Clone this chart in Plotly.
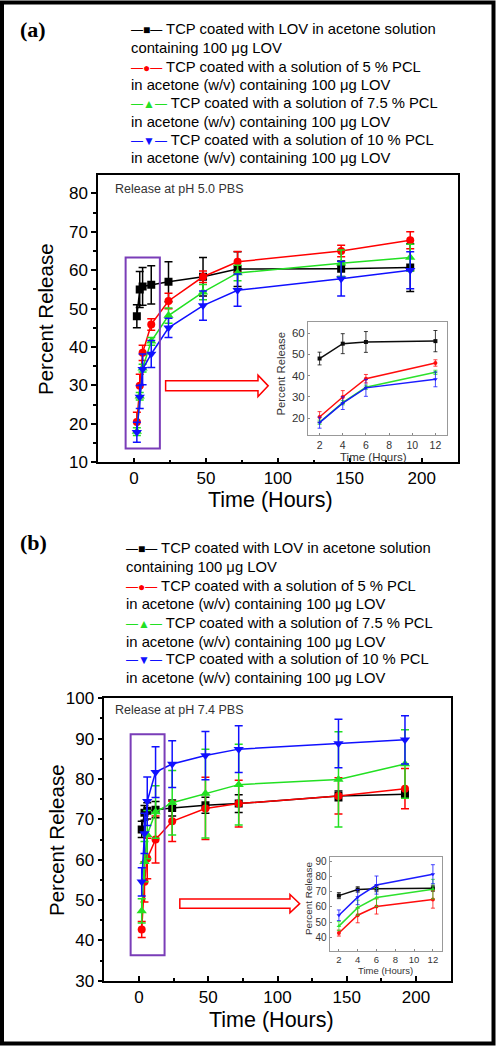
import plotly.graph_objects as go

W, H = 496, 1050

# ---------------- data ----------------
times = [2, 4, 6, 12, 24, 48, 72, 144, 192]
n_inset = 4  # first 4 time points shown in insets (2, 4, 6, 12 h)

series_names = [
    ["TCP coated with LOV in acetone solution", "containing 100 μg LOV"],
    ["TCP coated with a solution of 5 % PCL", "in acetone (w/v) containing 100 μg LOV"],
    ["TCP coated with a solution of 7.5 % PCL", "in acetone (w/v) containing 100 μg LOV"],
    ["TCP coated with a solution of 10 % PCL", "in acetone (w/v) containing 100 μg LOV"],
]
series_colors = ["#000000", "#ff0000", "#22e022", "#1010ff"]
series_symbols = ["square", "circle", "triangle-up", "triangle-down"]
legend_glyphs = ["■", "●", "▲", "▼"]

# pH 5.0
black_a = [48.0, 55.0, 55.8, 56.2, 57.0, 58.3, 60.3, 60.4, 60.7]
black_a_err = [3.0, 4.7, 4.9, 5.0, 5.2, 5.0, 4.5, 2.0, 6.2]
red_a = [20.5, 29.9, 38.5, 45.9, 52.0, 58.3, 62.2, 65.0, 67.8]
red_a_err = [2.5, 3.0, 2.0, 1.5, 2.0, 1.5, 2.7, 1.5, 2.2]
green_a = [18.0, 27.2, 34.5, 41.5, 48.2, 54.3, 59.3, 61.8, 63.3]
green_a_err = [1.0, 1.0, 1.0, 1.0, 2.0, 2.0, 2.0, 3.5, 3.5]
blue_a = [17.8, 27.0, 34.2, 38.2, 45.0, 50.8, 54.8, 57.8, 60.0]
blue_a_err = [2.6, 3.0, 4.0, 3.5, 2.5, 3.8, 4.2, 4.5, 4.8]

# pH 7.4
black_b = [67.5, 71.6, 72.1, 72.4, 72.8, 73.5, 73.9, 75.8, 76.2]
black_b_err = [2.0, 1.8, 2.0, 2.0, 2.0, 2.0, 2.2, 1.2, 1.0]
red_b = [42.7, 54.5, 60.3, 65.0, 69.5, 72.7, 73.9, 75.8, 77.6]
red_b_err = [2.0, 5.0, 5.0, 5.8, 5.0, 7.7, 5.8, 4.5, 5.0]
green_b = [47.3, 59.5, 66.2, 71.8, 74.1, 76.4, 78.6, 79.9, 83.7]
green_b_err = [3.0, 5.0, 6.0, 6.5, 8.0, 11.0, 10.0, 11.8, 8.5]
blue_b = [54.5, 66.5, 74.5, 81.7, 83.7, 85.8, 87.4, 88.8, 89.7]
blue_b_err = [3.5, 5.0, 6.0, 6.3, 5.8, 6.0, 5.8, 6.0, 6.0]

panel_a = [(black_a, black_a_err), (red_a, red_a_err), (green_a, green_a_err), (blue_a, blue_a_err)]
panel_b = [(black_b, black_b_err), (red_b, red_b_err), (green_b, green_b_err), (blue_b, blue_b_err)]

FONT = "Arial, 'Liberation Sans', sans-serif"


def px(x):
    return x / W


def py(y):
    return 1 - y / H


fig = go.Figure()


def add_panel(data, xa, ya, xi, yi):
    for (vals, errs), col, sym in zip(data, series_colors, series_symbols):
        msize = 8 if sym in ("square", "circle") else 9
        fig.add_trace(go.Scatter(
            x=times, y=vals, xaxis=xa, yaxis=ya, mode="lines+markers",
            line=dict(color=col, width=1.5),
            marker=dict(symbol=sym, size=msize, color=col),
            error_y=dict(type="data", array=errs, color=col, thickness=1.5, width=4),
            showlegend=False, hoverinfo="skip"))
    for (vals, errs), col, sym in zip(data, series_colors, series_symbols):
        fig.add_trace(go.Scatter(
            x=times[:n_inset], y=vals[:n_inset], xaxis=xi, yaxis=yi, mode="lines+markers",
            line=dict(color=col, width=1.5),
            marker=dict(symbol=sym, size=4, color=col),
            error_y=dict(type="data", array=errs[:n_inset], color=col, thickness=0.8, width=2),
            opacity=0.95, showlegend=False, hoverinfo="skip"))


add_panel(panel_a, "x", "y", "x2", "y2")
add_panel(panel_b, "x3", "y3", "x4", "y4")

main_tickfont = dict(family=FONT, size=17, color="black")


def main_x(domain, anchor):
    return dict(domain=domain, anchor=anchor, range=[-25, 225], tickvals=[0, 50, 100, 150, 200],
                ticks="inside", ticklen=5, tickwidth=1.5, tickcolor="black",
                minor=dict(tickvals=[-25, 25, 75, 125, 175, 225], ticks="inside", ticklen=3, tickwidth=1.5, tickcolor="black"),
                showline=True, linecolor="black", linewidth=1.5, mirror=True,
                showgrid=False, zeroline=False, tickfont=main_tickfont, automargin=False)


def main_y(domain, anchor, rng, vals, minor_vals):
    return dict(domain=domain, anchor=anchor, range=rng, tickvals=vals,
                ticks="outside", ticklen=5, tickwidth=1.5, tickcolor="black",
                minor=dict(tickvals=minor_vals, ticks="outside", ticklen=3, tickwidth=1.5, tickcolor="black"),
                showline=True, linecolor="black", linewidth=1.5, mirror=True,
                showgrid=False, zeroline=False, tickfont=main_tickfont, automargin=False)


def inset_x(domain, anchor, fs):
    return dict(domain=domain, anchor=anchor, range=[1, 13], tickvals=[2, 4, 6, 8, 10, 12],
                ticks="inside", ticklen=2, tickcolor="#888",
                showline=True, linecolor="#999", linewidth=1, mirror=True,
                showgrid=False, zeroline=False, tickfont=dict(family=FONT, size=fs, color="#333"),
                automargin=False)


def inset_y(domain, anchor, rng, vals, fs):
    return dict(domain=domain, anchor=anchor, range=rng, tickvals=vals,
                ticks="inside", ticklen=2, tickcolor="#888",
                showline=True, linecolor="#999", linewidth=1, mirror=True,
                showgrid=False, zeroline=False, tickfont=dict(family=FONT, size=fs, color="#333"),
                automargin=False)


fig.update_layout(
    width=W, height=H, margin=dict(l=0, r=0, t=0, b=0), autosize=False,
    paper_bgcolor="white", plot_bgcolor="white", template="none",
    xaxis=main_x([px(98), px(457.7)], "y"),
    yaxis=main_y([py(462.3), py(175)], "x", [10, 84.8], [10, 20, 30, 40, 50, 60, 70, 80], [15, 25, 35, 45, 55, 65, 75]),
    xaxis2=inset_x([px(308), px(447)], "y2", 10.5),
    yaxis2=inset_y([py(435), py(322)], "x2", [12, 65.2], [20, 30, 40, 50, 60], 11.5),
    xaxis3=main_x([px(104.3), px(450.7)], "y3"),
    yaxis3=main_y([py(980.7), py(698.3)], "x3", [30, 100], [30, 40, 50, 60, 70, 80, 90, 100], [35, 45, 55, 65, 75, 85, 95]),
    xaxis4=inset_x([px(329.5), px(442.3)], "y4", 9.5),
    yaxis4=inset_y([py(950.7), py(856.7)], "x4", [31, 93.3], [40, 50, 60, 70, 80, 90], 10),
)

ann = []
shapes = []

# outer frame
shapes.append(dict(type="rect", xref="paper", yref="paper", x0=px(2), x1=px(493.5), y0=py(1043.5), y1=py(2.5),
                   line=dict(color="black", width=4), layer="above"))

# panel letters
for letter, yy in (("(a)", 29), ("(b)", 542)):
    ann.append(dict(text=f"<b>{letter}</b>", x=px(18), y=py(yy), xref="paper", yref="paper",
                    xanchor="left", yanchor="middle", showarrow=False,
                    font=dict(family="'Liberation Serif', 'Times New Roman', serif", size=22, color="black")))


# legends (text blocks)
def add_legend(x0, ys):
    k = 0
    for (l1, l2), col, g in zip(series_names, series_colors, legend_glyphs):
        ann.append(dict(text=f'<span style="color:{col};font-size:12px">—{g}—</span> {l1}', x=px(x0), y=py(ys[k]),
                        xref="paper", yref="paper", xanchor="left", yanchor="middle", showarrow=False,
                        font=dict(family=FONT, size=14.8, color="black")))
        ann.append(dict(text=l2, x=px(x0), y=py(ys[k + 1]), xref="paper", yref="paper",
                        xanchor="left", yanchor="middle", showarrow=False,
                        font=dict(family=FONT, size=14.8, color="black")))
        k += 2


add_legend(129, [29.3, 48.3, 66.5, 85, 103.3, 121.7, 140, 158.3])
add_legend(124, [548.3, 567.3, 585.7, 604.3, 623.3, 641.7, 659.5, 678])

# condition labels
ann.append(dict(text="Release at pH 5.0 PBS", x=px(113), y=py(188.5), xref="paper", yref="paper",
                xanchor="left", yanchor="middle", showarrow=False, font=dict(family=FONT, size=12.5, color="#333")))
ann.append(dict(text="Release at pH 7.4 PBS", x=px(113), y=py(710), xref="paper", yref="paper",
                xanchor="left", yanchor="middle", showarrow=False, font=dict(family=FONT, size=12.5, color="#333")))


# axis titles
def title(text, x, y, size, angle=0, color="black"):
    ann.append(dict(text=text, x=px(x), y=py(y), xref="paper", yref="paper", xanchor="center", yanchor="middle",
                    showarrow=False, textangle=angle, font=dict(family=FONT, size=size, color=color)))


title("Percent Release", 46, 319, 20.5, -90)
title("Time (Hours)", 270.5, 500, 21.5)
title("Percent Release", 56, 840, 20.5, -90)
title("Time (Hours)", 271, 1020, 21.5)
title("Percent Release", 281, 373.5, 11.3, -90, "#333")
title("Time (Hours)", 373.5, 457, 11.5, 0, "#333")
title("Percent Release", 308, 898, 9.9, -90, "#333")
title("Time (Hours)", 385.7, 970, 9.5, 0, "#333")

# highlight boxes around the early time points
purple = "#7a3db8"
shapes.append(dict(type="rect", xref="x", yref="y", x0=-5.8, x1=18, y0=13.6, y1=63.3,
                   line=dict(color=purple, width=2)))
shapes.append(dict(type="rect", xref="x3", yref="y3", x0=-6, x1=18.5, y0=36.3, y1=91.1,
                   line=dict(color=purple, width=2)))


def arrow_path(xs, xh, xt, yc, hb, hh):
    return (f"M {xs},{yc - hb} L {xh},{yc - hb} L {xh},{yc - hh} L {xt},{yc} "
            f"L {xh},{yc + hh} L {xh},{yc + hb} L {xs},{yc + hb} Z")


shapes.append(dict(type="path", xref="x", yref="y", path=arrow_path(22, 86.2, 93.3, 29.9, 1.3, 2.8),
                   line=dict(color="#ff0000", width=1.5), fillcolor="white"))
shapes.append(dict(type="path", xref="x3", yref="y3", path=arrow_path(29.5, 109, 116, 49.1, 1.16, 2.27),
                   line=dict(color="#ff0000", width=1.5), fillcolor="white"))

fig.update_layout(annotations=ann, shapes=shapes)

fig.write_html("out.html", config={"displayModeBar": False},
               post_script="document.body.style.margin='0';")
